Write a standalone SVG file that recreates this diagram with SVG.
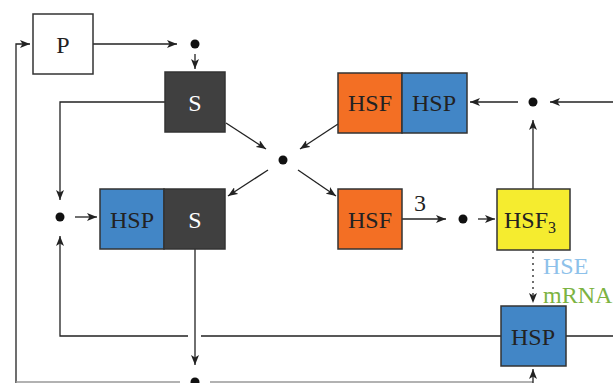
<svg xmlns="http://www.w3.org/2000/svg" width="613" height="383" viewBox="0 0 613 383">
<defs>
<marker id="ah" viewBox="0 0 10 8" refX="10" refY="4" markerWidth="10" markerHeight="8" markerUnits="userSpaceOnUse" orient="auto">
<path d="M0,0 L10,4 L0,8 L2.5,4 Z" fill="#222"/>
</marker>
</defs>
<style>
.ln{fill:none;stroke:#222;stroke-width:1.3}
.lg{fill:none;stroke:#999;stroke-width:1.3}
.bx{stroke:#333;stroke-width:1.5}
.t{font-family:"Liberation Serif","Times New Roman",serif;font-size:24px;text-anchor:middle;fill:#222}
.tw{fill:#fff}
.dot{fill:#111}
</style>
<g id="connectors">
<path class="ln" d="M93,44 H177" marker-end="url(#ah)"/>
<path class="ln" d="M195,54 V69" marker-end="url(#ah)"/>
<path class="ln" d="M165,102 H60 V200" marker-end="url(#ah)"/>
<path class="ln" d="M75,217 H97" marker-end="url(#ah)"/>
<path class="ln" d="M16,383 V44 H30" marker-end="url(#ah)"/>
<path class="ln" d="M195,249 V365" marker-end="url(#ah)"/>
<path class="lg" d="M16,382 H180 M210,382 H533"/>
<path class="ln" d="M533,383 V369" marker-end="url(#ah)"/>
<path class="ln" d="M501,336 H201 M188,336 H60 V236" marker-end="url(#ah)"/>
<path class="ln" d="M566,336 H613"/>
<path class="ln" d="M226,123 L266,149" marker-end="url(#ah)"/>
<path class="ln" d="M338,124 L300,149" marker-end="url(#ah)"/>
<path class="ln" d="M268,170 L228,196" marker-end="url(#ah)"/>
<path class="ln" d="M298,170 L336,196" marker-end="url(#ah)"/>
<path class="ln" d="M518,102 H470" marker-end="url(#ah)"/>
<path class="ln" d="M613,102 H550" marker-end="url(#ah)"/>
<path class="ln" d="M533,189 V120" marker-end="url(#ah)"/>
<path class="ln" d="M402,219 H446" marker-end="url(#ah)"/>
<path class="ln" d="M478,219 H495" marker-end="url(#ah)"/>
<path class="ln" d="M533,251 V303" stroke-dasharray="2,4" marker-end="url(#ah)"/>
<circle class="dot" cx="195" cy="44" r="4.5"/>
<circle class="dot" cx="60" cy="217" r="4.5"/>
<circle class="dot" cx="283" cy="160" r="4.5"/>
<circle class="dot" cx="533" cy="102" r="4.5"/>
<circle class="dot" cx="463" cy="219" r="4.5"/>
<circle class="dot" cx="195" cy="382" r="4.5"/>
<text class="t" x="420" y="211">3</text>
<text class="t" x="543" y="274" style="text-anchor:start;fill:#8DC1EA">HSE</text>
<text class="t" x="543" y="303" style="text-anchor:start;fill:#7CB342">mRNA</text>
</g>
<g id="P">
<rect class="bx" x="33" y="14" width="60" height="60" fill="#fff"/>
<text class="t" x="63" y="53">P</text>
</g>
<g id="S_top">
<rect class="bx" x="165" y="72" width="60" height="60" fill="#404040"/>
<text class="t tw" x="195" y="111">S</text>
</g>
<g id="HSF_HSP">
<rect class="bx" x="338" y="73" width="64" height="60" fill="#F36F24"/>
<rect class="bx" x="402" y="73" width="65" height="60" fill="#4286C6"/>
<text class="t" x="370" y="111">HSF</text>
<text class="t" x="434" y="111">HSP</text>
</g>
<g id="HSP_S">
<rect class="bx" x="100" y="189" width="64" height="60" fill="#4286C6"/>
<rect class="bx" x="164" y="189" width="61" height="60" fill="#404040"/>
<text class="t" x="132" y="228">HSP</text>
<text class="t tw" x="195" y="228">S</text>
</g>
<g id="HSF">
<rect class="bx" x="338" y="189" width="64" height="60" fill="#F36F24"/>
<text class="t" x="370" y="228">HSF</text>
</g>
<g id="HSF3">
<rect class="bx" x="497" y="189" width="73" height="61" fill="#F5EC2F"/>
<text class="t" x="530" y="228">HSF<tspan font-size="16" dy="5">3</tspan></text>
</g>
<g id="HSP_bottom">
<rect class="bx" x="501" y="306" width="65" height="60" fill="#4286C6"/>
<text class="t" x="533" y="345">HSP</text>
</g>
</svg>
